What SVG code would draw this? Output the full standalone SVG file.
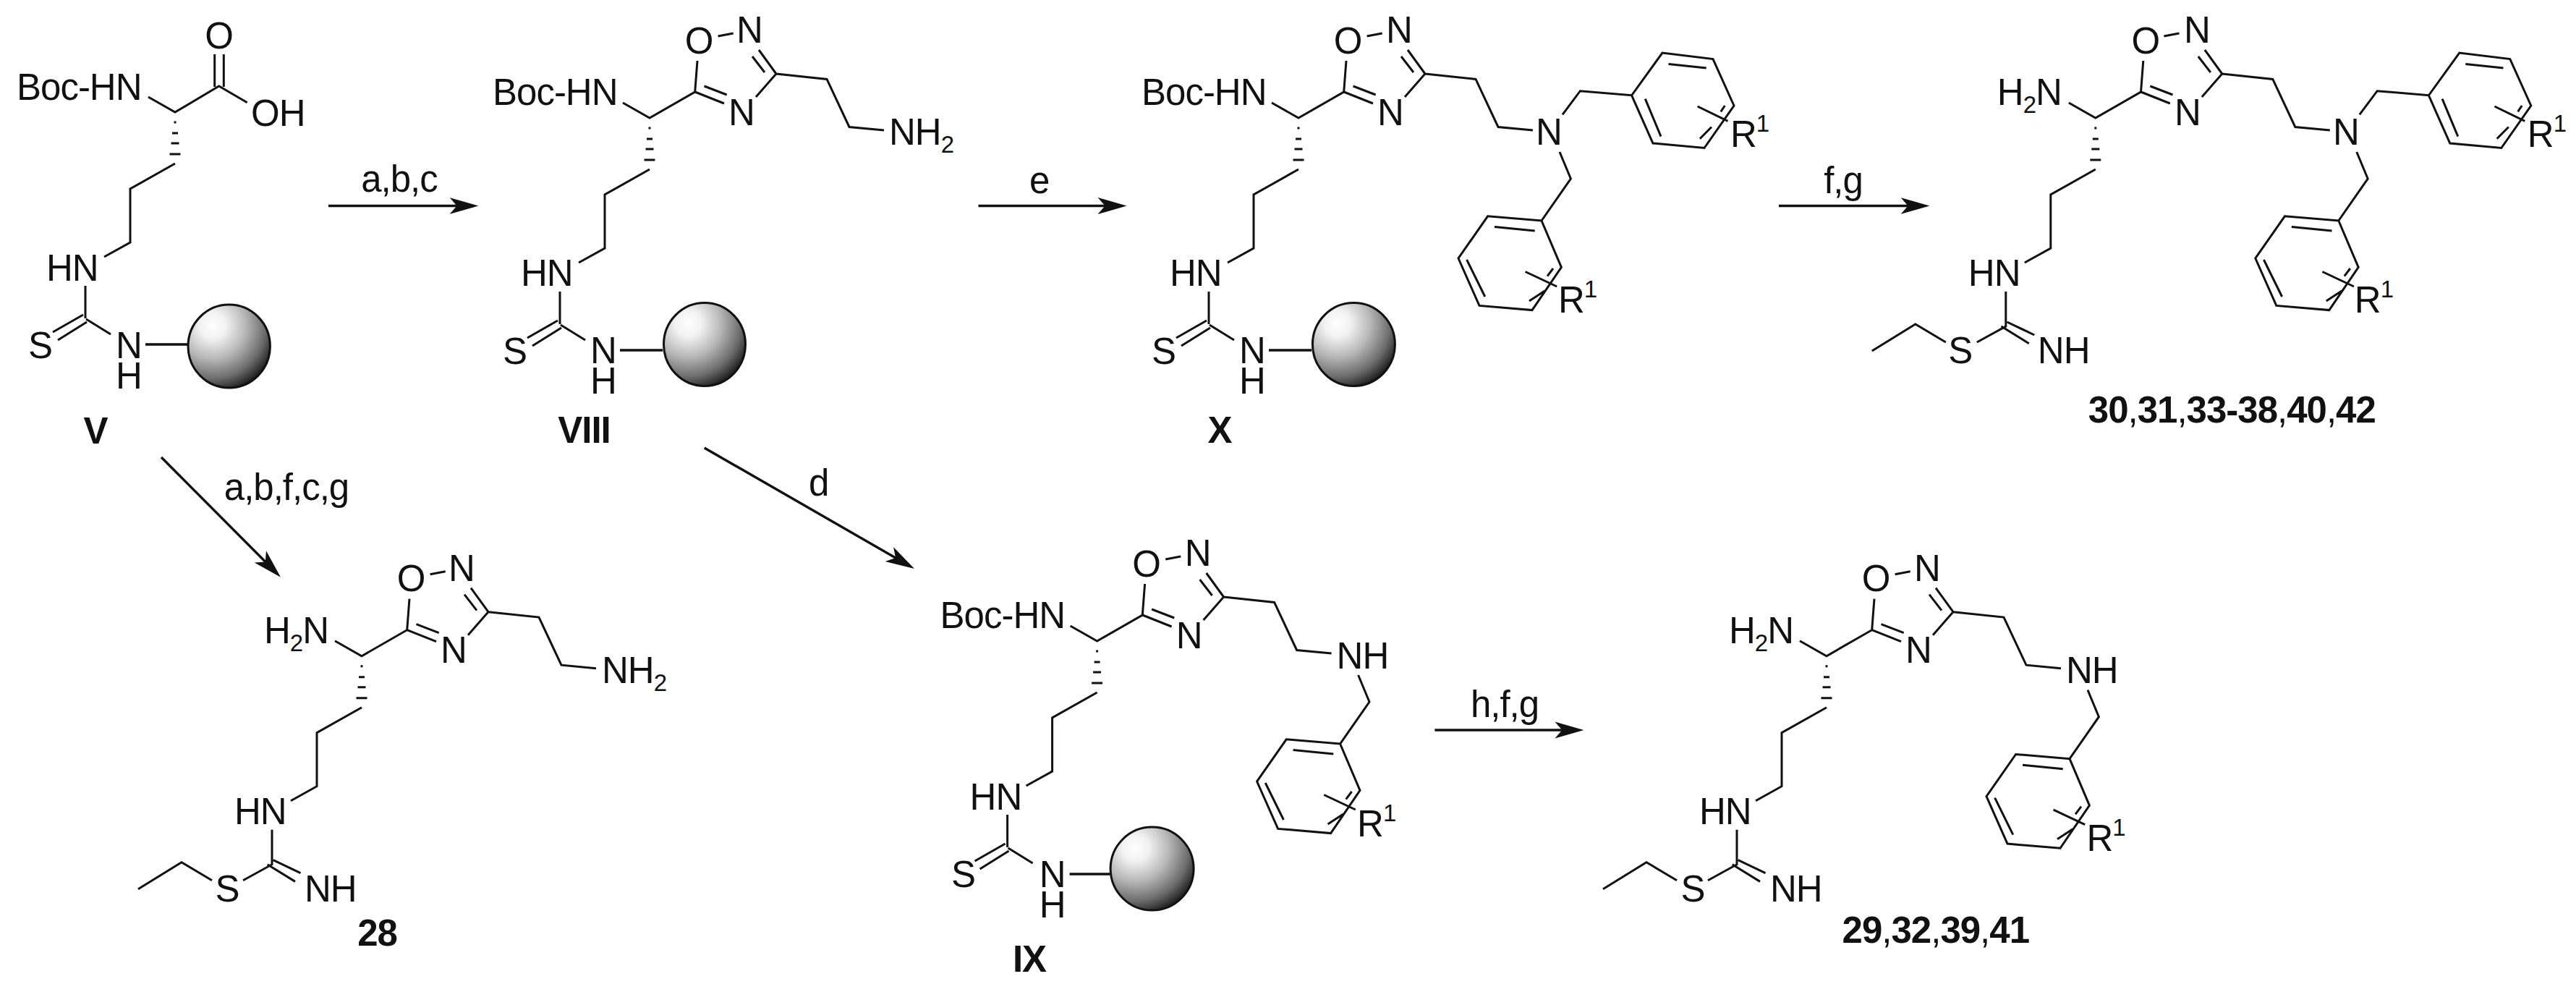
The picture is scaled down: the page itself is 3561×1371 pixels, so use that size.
<svg xmlns="http://www.w3.org/2000/svg" xmlns:xlink="http://www.w3.org/1999/xlink" width="3561" height="1371" viewBox="0 0 3561 1371">
<style>
text{font-family:"Liberation Sans",Arial,Helvetica,sans-serif;font-size:51px;letter-spacing:-1px;fill:#111}
.m{text-anchor:middle}
.s{font-size:33px}
.l{font-weight:bold;text-anchor:middle}
.c{font-weight:normal}
.b{fill:none;stroke:#111;stroke-width:3;stroke-linejoin:miter}
.r{fill:none;stroke:#111;stroke-width:3.4}
.a{fill:none;stroke:#111;stroke-width:3.4;marker-end:url(#head)}
.bead{fill:url(#beadFill);stroke:#111;stroke-width:3}
</style>
<defs>
<marker id="head" markerUnits="userSpaceOnUse" markerWidth="42" markerHeight="26" viewBox="0 -13 42 26" refX="20" refY="0" orient="auto"><path d="M0,-11.5L40,0L0,11.5L10,0Z" fill="#111"/></marker>
<radialGradient id="beadFill" cx="0.3" cy="0.25" r="0.8">
<stop offset="0" stop-color="#fff"/><stop offset="0.2" stop-color="#f2f2f2"/><stop offset="0.5" stop-color="#b8b8b8"/><stop offset="0.8" stop-color="#6c6c6c"/><stop offset="1" stop-color="#222"/>
</radialGradient>
<g id="hash">
<path class="b" d="M-1.5,14H1.5M-4,29H4M-5.5,43H5.5M-7.5,58H7.5"/>
<path class="b" d="M0,71L-62,106V180L-98,200"/>
</g>
<path id="oxa" class="b" d="M-37,-21L0,0L62.7,-36L66,-79M94.6,-113L115.7,-117M151,-94L175,-61L147,-29M142,-85L159,-63M62.7,-36L103,-20M75.5,-44L106.7,-32M175,-61L245,-53.6L276,12.5L324,17"/>
<path id="ringLow" class="b" d="M361,47L376.4,84L336,142L261.6,135.8L221,194L250,259.4L323,265.6L363.4,206.4L336,142M326.7,156L271,150.5M232.6,196L257.8,247M319,253L340.4,239M352,208L344,218.6M313.6,212.5L357.2,233"/>
<path id="ringUp" class="b" d="M365,-4.6L389.4,-37.3L460.6,-31.2L503,-90L573,-81.4L602,-17L561,41.5L490,35L460.6,-31.2M563.7,-69L511.5,-74.4M479.3,-26.3L501,25.6M554.9,28.8L571,12.5M589.4,-17L583.8,-8.7M551.6,-16L593.5,4.3"/>
<path id="resinBonds" class="b" d="M-124,240V285M-127,280L-169,304M-122,290L-162,315M-123,286L-89,307"/>
<path id="imidate" class="b" d="M-124,240V288L-164,310M-122.3,282L-84.5,300M-130.3,288L-92,311.7M-207,310L-249,285L-309,322"/>
</defs>
<rect width="3561" height="1371" fill="#fff"/>

<g id="connectors">
<line class="a" x1="454" y1="284.5" x2="641.5" y2="284.5"/>
<line class="a" x1="1352.5" y1="284.5" x2="1537.6" y2="284.5"/>
<line class="a" x1="2459" y1="284.5" x2="2647.5" y2="284.5"/>
<line class="a" x1="223" y1="632" x2="373.9" y2="783.5"/>
<line class="a" x1="973.7" y1="619" x2="1246.7" y2="776"/>
<line class="a" x1="1983.4" y1="1009" x2="2169.4" y2="1009"/>
<text class="m" x="552" y="265">a,b,c</text>
<text class="m" x="1436.7" y="267">e</text>
<text class="m" x="2548" y="267">f,g</text>
<text class="m" x="396" y="691">a,b,f,c,g</text>
<text class="m" x="1131.6" y="685">d</text>
<text class="m" x="2080" y="991">h,f,g</text>
</g>

<g id="compound-V" transform="translate(242 155)">
<path class="b" d="M-37,-21L0,0L60.7,-36L99.7,-13.3M54.7,-80V-35M67.3,-80V-35"/>
<use href="#hash" xlink:href="#hash"/>
<use href="#resinBonds" xlink:href="#resinBonds"/>
<line class="r" x1="-41" y1="321" x2="18" y2="321"/>
<ellipse class="bead" cx="74.7" cy="323.5" rx="56.7" ry="57.5"/>
<text x="-219" y="-17">Boc-HN</text>
<text class="m" x="60.5" y="-88.5">O</text>
<text x="105" y="18.5">OH</text>
<text x="-178" y="232.5">HN</text>
<text class="m" x="-186.5" y="339.5">S</text>
<text class="m" x="-64" y="339.5">N<tspan x="-64" dy="42">H</tspan></text>
<text class="l" x="-110" y="458">V</text>
</g>

<g id="compound-VIII" transform="translate(898 163)">
<use href="#oxa" xlink:href="#oxa"/>
<use href="#hash" xlink:href="#hash"/>
<use href="#resinBonds" xlink:href="#resinBonds"/>
<line class="r" x1="-41" y1="321" x2="18" y2="321"/>
<ellipse class="bead" cx="76" cy="313" rx="56.5" ry="57.5"/>
<text x="-217" y="-18.5">Boc-HN</text>
<text class="m" x="68" y="-89.5">O</text>
<text class="m" x="138" y="-104">N</text>
<text class="m" x="127" y="9.6">N</text>
<text x="331" y="37">NH<tspan class="s" dy="11">2</tspan></text>
<text x="-178" y="232">HN</text>
<text class="m" x="-186.5" y="340">S</text>
<text class="m" x="-64" y="339">N<tspan x="-64" dy="42">H</tspan></text>
<text class="l" x="-90.5" y="449">VIII</text>
</g>

<g id="compound-X" transform="translate(1795 163)">
<use href="#oxa" xlink:href="#oxa"/>
<use href="#hash" xlink:href="#hash"/>
<use href="#resinBonds" xlink:href="#resinBonds"/>
<use href="#ringLow" xlink:href="#ringLow"/>
<use href="#ringUp" xlink:href="#ringUp"/>
<line class="r" x1="-41" y1="321" x2="18" y2="321"/>
<ellipse class="bead" cx="76.4" cy="313" rx="57" ry="57.5"/>
<text x="-217" y="-18.5">Boc-HN</text>
<text class="m" x="68" y="-89.5">O</text>
<text class="m" x="139" y="-104">N</text>
<text class="m" x="127" y="9.6">N</text>
<text class="m" x="346" y="37">N</text>
<text x="597" y="40">R<tspan class="s" dy="-21">1</tspan></text>
<text x="359" y="269">R<tspan class="s" dy="-21">1</tspan></text>
<text x="-178" y="232">HN</text>
<text class="m" x="-186.5" y="340">S</text>
<text class="m" x="-64" y="339">N<tspan x="-64" dy="42">H</tspan></text>
<text class="l" x="-109" y="449">X</text>
</g>

<g id="compound-30" transform="translate(2896.8 163)">
<use href="#oxa" xlink:href="#oxa"/>
<use href="#hash" xlink:href="#hash"/>
<use href="#imidate" xlink:href="#imidate"/>
<use href="#ringLow" xlink:href="#ringLow"/>
<use href="#ringUp" xlink:href="#ringUp"/>
<text x="-136" y="-18.5">H<tspan class="s" dy="11">2</tspan><tspan dy="-11">N</tspan></text>
<text class="m" x="69" y="-89.5">O</text>
<text class="m" x="140" y="-104">N</text>
<text class="m" x="127" y="9.6">N</text>
<text class="m" x="346" y="37">N</text>
<text x="597" y="40">R<tspan class="s" dy="-21">1</tspan></text>
<text x="358" y="269">R<tspan class="s" dy="-21">1</tspan></text>
<text x="-176" y="232">HN</text>
<text class="m" x="-187" y="339">S</text>
<text x="-80" y="339">NH</text>
<text class="l" x="188.5" y="420.7">30<tspan class="c">,</tspan>31<tspan class="c">,</tspan>33-38<tspan class="c">,</tspan>40<tspan class="c">,</tspan>42</text>
</g>

<g id="compound-28" transform="translate(500 906.7)">
<use href="#oxa" xlink:href="#oxa"/>
<use href="#hash" xlink:href="#hash"/>
<use href="#imidate" xlink:href="#imidate"/>
<text x="-135" y="-17.5">H<tspan class="s" dy="11">2</tspan><tspan dy="-11">N</tspan></text>
<text class="m" x="68" y="-89.5">O</text>
<text class="m" x="138" y="-104">N</text>
<text class="m" x="127" y="9.6">N</text>
<text x="332" y="37.7">NH<tspan class="s" dy="11">2</tspan></text>
<text x="-176" y="232">HN</text>
<text class="m" x="-186" y="339">S</text>
<text x="-79" y="339">NH</text>
<text class="l" x="21.6" y="400">28</text>
</g>

<g id="compound-IX" transform="translate(1516.6 886)">
<use href="#oxa" xlink:href="#oxa"/>
<use href="#hash" xlink:href="#hash"/>
<use href="#resinBonds" xlink:href="#resinBonds"/>
<use href="#ringLow" xlink:href="#ringLow"/>
<line class="r" x1="-38" y1="322" x2="18" y2="322"/>
<ellipse class="bead" cx="76" cy="314.6" rx="57.5" ry="57.5"/>
<text x="-217" y="-18">Boc-HN</text>
<text class="m" x="68" y="-89.5">O</text>
<text class="m" x="139" y="-104">N</text>
<text class="m" x="127" y="9.6">N</text>
<text x="331" y="37.8">NH</text>
<text x="359.5" y="269.7">R<tspan class="s" dy="-21">1</tspan></text>
<text x="-176" y="232.5">HN</text>
<text class="m" x="-185" y="339.5">S</text>
<text class="m" x="-62" y="339.5">N<tspan x="-62" dy="42">H</tspan></text>
<text class="l" x="-93.6" y="457">IX</text>
</g>

<g id="compound-29" transform="translate(2525 906.7)">
<use href="#oxa" xlink:href="#oxa"/>
<use href="#hash" xlink:href="#hash"/>
<use href="#imidate" xlink:href="#imidate"/>
<use href="#ringLow" xlink:href="#ringLow"/>
<text x="-135" y="-17.5">H<tspan class="s" dy="11">2</tspan><tspan dy="-11">N</tspan></text>
<text class="m" x="68" y="-89.5">O</text>
<text class="m" x="139" y="-104">N</text>
<text class="m" x="127" y="9.6">N</text>
<text x="331" y="37.5">NH</text>
<text x="359.5" y="269.7">R<tspan class="s" dy="-21">1</tspan></text>
<text x="-176" y="232">HN</text>
<text class="m" x="-185" y="339">S</text>
<text x="-78" y="339">NH</text>
<text class="l" x="150.8" y="396.6">29<tspan class="c">,</tspan>32<tspan class="c">,</tspan>39<tspan class="c">,</tspan>41</text>
</g>
</svg>
